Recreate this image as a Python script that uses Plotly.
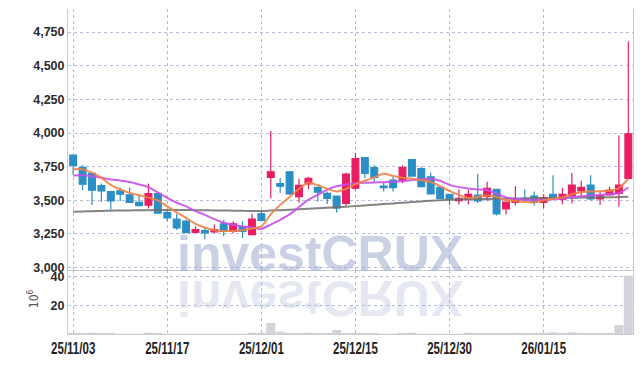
import plotly.graph_objects as go
from plotly.subplots import make_subplots

# ---------------- data ----------------
dates = [
    "25/11/03", "25/11/04", "25/11/05", "25/11/06", "25/11/07",
    "25/11/10", "25/11/11", "25/11/12", "25/11/13", "25/11/14",
    "25/11/17", "25/11/18", "25/11/19", "25/11/20", "25/11/21",
    "25/11/24", "25/11/25", "25/11/26", "25/11/27", "25/11/28",
    "25/12/01", "25/12/02", "25/12/03", "25/12/04", "25/12/05",
    "25/12/08", "25/12/09", "25/12/10", "25/12/11", "25/12/12",
    "25/12/15", "25/12/16", "25/12/17", "25/12/18", "25/12/19",
    "25/12/22", "25/12/23", "25/12/24", "25/12/26", "25/12/29",
    "25/12/30", "26/01/02", "26/01/05", "26/01/06", "26/01/07",
    "26/01/08", "26/01/09", "26/01/12", "26/01/13", "26/01/14",
    "26/01/15", "26/01/16", "26/01/19", "26/01/20", "26/01/21",
    "26/01/22", "26/01/23", "26/01/26", "26/01/27", "26/01/28",
]
opens = [3835, 3745, 3700, 3610, 3565, 3570, 3540, 3485, 3465, 3550,
         3410, 3360, 3345, 3262, 3275, 3265, 3325, 3270, 3305, 3245,
         3400, 3670, 3625, 3712, 3528, 3621, 3596, 3552, 3532, 3478,
         3590, 3817, 3743, 3606, 3650, 3650, 3802, 3736, 3675, 3596,
         3545, 3498, 3510, 3538, 3528, 3582, 3437, 3484, 3515, 3532,
         3484, 3545, 3508, 3535, 3569, 3613, 3510, 3540, 3552, 3663]
highs = [3840, 3760, 3705, 3625, 3568, 3595, 3595, 3540, 3625, 3555,
         3430, 3400, 3355, 3307, 3295, 3320, 3355, 3345, 3345, 3400,
         3420, 4015, 3665, 3715, 3658, 3675, 3598, 3565, 3535, 3704,
         3852, 3820, 3760, 3631, 3675, 3760, 3805, 3749, 3704, 3598,
         3548, 3580, 3576, 3697, 3638, 3585, 3486, 3607, 3582, 3565,
         3545, 3687, 3594, 3704, 3646, 3687, 3565, 3601, 3981, 4680]
lows = [3690, 3575, 3465, 3490, 3430, 3495, 3480, 3455, 3440, 3400,
        3345, 3280, 3255, 3258, 3210, 3258, 3235, 3258, 3220, 3240,
        3345, 3515, 3557, 3540, 3484, 3584, 3490, 3473, 3410, 3459,
        3576, 3663, 3638, 3565, 3565, 3626, 3678, 3598, 3545, 3513,
        3466, 3468, 3470, 3480, 3495, 3388, 3395, 3462, 3491, 3462,
        3442, 3503, 3471, 3478, 3528, 3498, 3466, 3535, 3454, 3660]
closes = [3760, 3620, 3575, 3570, 3495, 3545, 3485, 3460, 3550, 3405,
          3370, 3295, 3260, 3282, 3258, 3282, 3270, 3325, 3270, 3360,
          3350, 3712, 3605, 3547, 3611, 3663, 3560, 3515, 3442, 3694,
          3810, 3700, 3670, 3594, 3594, 3743, 3680, 3601, 3547, 3515,
          3510, 3515, 3545, 3496, 3589, 3400, 3486, 3501, 3503, 3484,
          3520, 3515, 3545, 3613, 3596, 3510, 3535, 3576, 3613, 3994]
volume_m = [0.3, 0.3, 0.8, 0.3, 0.3, 0.2, 0.2, 0.2, 0.3, 0.3,
            0.2, 0.2, 0.2, 0.2, 0.2, 0.2, 0.2, 0.2, 0.2, 0.3,
            0.3, 7.6, 1.6, 0.7, 0.7, 0.7, 0.4, 0.3, 2.8, 0.7,
            0.7, 0.5, 0.3, 0.2, 0.2, 0.3, 0.3, 0.2, 0.2, 0.2,
            0.2, 0.2, 0.3, 0.5, 0.5, 0.5, 0.5, 0.5, 0.4, 0.4,
            0.3, 1.2, 0.5, 1.2, 0.5, 0.5, 0.5, 0.5, 6.2, 40.5]
ma_short = [3731, 3731, 3705, 3668, 3615, 3580, 3555, 3538, 3520, 3500,
            3455, 3410, 3370, 3325, 3298, 3278, 3272, 3272, 3278, 3290,
            3307, 3395, 3466, 3525, 3585, 3633, 3612, 3585, 3566, 3585,
            3620, 3645, 3670, 3699, 3680, 3668, 3660, 3650, 3638, 3605,
            3570, 3540, 3518, 3525, 3535, 3525, 3500, 3495, 3488, 3484,
            3500, 3512, 3522, 3545, 3560, 3565, 3568, 3570, 3590, 3660]
ma_mid = [3685, 3686, 3678, 3668, 3655, 3647, 3636, 3618, 3598, 3558,
          3518, 3482, 3455, 3420, 3392, 3360, 3333, 3318, 3306, 3298,
          3288, 3320, 3355, 3395, 3450, 3505, 3540, 3580, 3605, 3618,
          3626, 3631, 3633, 3634, 3637, 3642, 3650, 3657, 3660, 3645,
          3615, 3598, 3588, 3581, 3576, 3550, 3522, 3512, 3505, 3503,
          3503, 3508, 3515, 3525, 3530, 3535, 3540, 3545, 3552, 3595]
ma_long = [3415, 3417, 3419, 3421, 3423, 3424, 3425, 3426, 3427, 3428,
           3428, 3428, 3428, 3427, 3426, 3425, 3424, 3423, 3422, 3421,
           3421, 3424, 3427, 3430, 3433, 3437, 3441, 3445, 3449, 3453,
           3457, 3462, 3467, 3472, 3477, 3482, 3487, 3492, 3497, 3501,
           3504, 3506, 3508, 3509, 3510, 3511, 3512, 3513, 3514, 3515,
           3516, 3517, 3518, 3519, 3520, 3521, 3522, 3523, 3524, 3526]
tick_labels = ["25/11/03", "25/11/17", "25/12/01", "25/12/15", "25/12/30", "26/01/15"]
price_ticks = [3000, 3250, 3500, 3750, 4000, 4250, 4500, 4750]
volume_ticks = [20, 40]

# ---------------- styles ----------------
UP = "#e91e63"
DOWN = "#2b8fc6"
GRID = "rgba(170,178,205,0.85)"
AXLINE = "#c9c9d1"
LIB = "Liberation Sans, Arial, sans-serif"
YFONT = dict(family=LIB, size=12.5, color="#2b2b2b", weight="bold")
XFONT = dict(family=LIB, size=16, color="#222222", weight="bold")

fig = make_subplots(rows=2, cols=1, shared_xaxes=True, vertical_spacing=0)

fig.add_trace(go.Candlestick(
    x=dates, open=opens, high=highs, low=lows, close=closes,
    increasing=dict(line=dict(color=UP, width=1.2), fillcolor=UP),
    decreasing=dict(line=dict(color=DOWN, width=1.2), fillcolor=DOWN),
    whiskerwidth=0, showlegend=False, hoverinfo="skip"), row=1, col=1)

for series, color in ((ma_long, "rgba(110,110,110,0.85)"),
                      (ma_mid, "rgba(200,80,235,0.9)"),
                      (ma_short, "rgba(240,130,70,0.9)")):
    fig.add_trace(go.Scatter(x=dates, y=series, mode="lines",
                             line=dict(color=color, width=2, shape="spline", smoothing=0.6),
                             showlegend=False, hoverinfo="skip"), row=1, col=1)

fig.add_trace(go.Bar(x=dates, y=volume_m, marker=dict(color="#d3d3db", line=dict(width=0)),
                     showlegend=False, hoverinfo="skip"), row=2, col=1)

xcommon = dict(type="category", range=[-0.55, 59.5], tickmode="array", tickvals=tick_labels,
               showgrid=True, gridcolor=GRID, griddash="dot", gridwidth=1,
               showline=True, linecolor=AXLINE, linewidth=1, ticks="", zeroline=False)
fig.update_xaxes(**xcommon)
fig.update_layout(
    xaxis=dict(showticklabels=False, rangeslider=dict(visible=False)),
    xaxis2=dict(showticklabels=True, tickfont=XFONT, ticktext=tick_labels),
    yaxis=dict(domain=[0.198, 1], range=[2985, 4921], tickvals=price_ticks, tickformat=",",
               showgrid=True, gridcolor=GRID, griddash="dot", gridwidth=1,
               showline=True, mirror=True, linecolor=AXLINE, linewidth=1,
               ticks="", zeroline=False, tickfont=YFONT),
    yaxis2=dict(domain=[0, 0.198], range=[0, 44.8], tickvals=volume_ticks,
                showgrid=True, gridcolor=GRID, griddash="dot", gridwidth=1,
                showline=True, mirror=True, linecolor=AXLINE, linewidth=1,
                ticks="", zeroline=False, tickfont=YFONT),
    width=643, height=366,
    margin=dict(l=68, r=10, t=9, b=29),
    paper_bgcolor="white", plot_bgcolor="white",
    bargap=0.05, boxgap=0.1, boxgroupgap=0.2, showlegend=False,
)

# volume unit label
fig.add_annotation(text="10<sup>6</sup>", xref="paper", yref="paper",
                   x=-0.062, y=0.11, xanchor="center", yanchor="middle",
                   textangle=-90, showarrow=False,
                   font=dict(family="DejaVu Sans Condensed, sans-serif", size=12, color="#555555"))

# watermark and its reflection
WM_FONT = "Liberation Sans, Arial, sans-serif"
fig.add_annotation(text="investCRUX", xref="paper", yref="paper", x=0.446, y=0.245,
                   showarrow=False, xanchor="center", yanchor="middle",
                   font=dict(family=WM_FONT, size=50, color="rgba(150,163,203,0.5)", weight="bold"))
fig.add_annotation(text="investCRUX", xref="paper", yref="paper", x=0.446, y=0.245,
                   showarrow=False, xanchor="center", yanchor="middle",
                   font=dict(family=WM_FONT, size=50, color="rgba(165,175,210,0.28)", weight="bold"))

post = """
var anns = document.querySelectorAll('g.annotation text.annotation-text');
if (anns.length >= 3) {
  var t = anns[2];
  var y = parseFloat(t.getAttribute('y')) || 0;
  t.setAttribute('transform', 'matrix(1 0 0 -1 0 ' + (2 * y + 10) + ')');
}
document.querySelectorAll('g.x2tick text, g.xtick text').forEach(function(el) {
  var bb = el.getBBox();
  if (!bb || bb.width === 0) return;
  var cx = bb.x + bb.width / 2;
  var tr = el.getAttribute('transform') || '';
  el.setAttribute('transform', tr + ' translate(' + cx + ',0) scale(0.72,1) translate(' + (-cx) + ',0)');
});
"""
fig.write_html("out.html", post_script=post)
